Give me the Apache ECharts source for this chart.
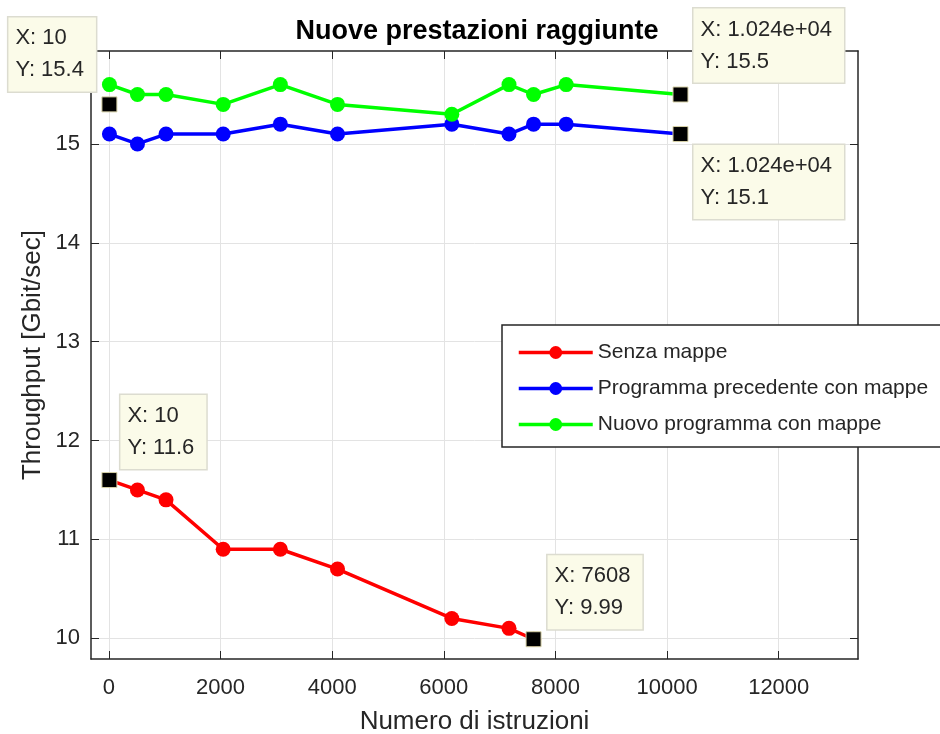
<!DOCTYPE html>
<html lang="it">
<head>
    <meta charset="UTF-8">
    <script src="https://cdn.jsdelivr.net/npm/echarts@6/dist/echarts.min.js"></script>
    <title>Nuove prestazioni raggiunte</title>
    <style>
        html, body { margin: 0; padding: 0; background: #fff; }
        #main { width: 940px; height: 734px; }
    </style>
</head>
<body>
<div id="main"></div>
<script>
    // data
    var seriesNames = ['Senza mappe', 'Programma precedente con mappe', 'Nuovo programma con mappe'];
    var seriesColors = ['#ff0000', '#0000ff', '#00ff00'];

    var xSenza = [10, 512, 1024, 2048, 3072, 4096, 6144, 7168, 7608];
    var ySenza = [11.6, 11.5, 11.4, 10.9, 10.9, 10.7, 10.2, 10.1, 9.99];

    var xMappe = [10, 512, 1024, 2048, 3072, 4096, 6144, 7168, 7608, 8192, 10240];
    var yPrecedente = [15.1, 15.0, 15.1, 15.1, 15.2, 15.1, 15.2, 15.1, 15.2, 15.2, 15.1];
    var yNuovo = [15.6, 15.5, 15.5, 15.4, 15.6, 15.4, 15.3, 15.6, 15.5, 15.6, 15.5];

    var xTicks = [0, 2000, 4000, 6000, 8000, 10000, 12000];
    var yTicks = [10, 11, 12, 13, 14, 15];

    // data tips (black squares + yellow boxes)
    var tipX = [10, 10240, 10240, 10, 7608];
    var tipY = [15.4, 15.5, 15.1, 11.6, 9.99];
    var tipXText = ['10', '1.024e+04', '1.024e+04', '10', '7608'];
    var tipYText = ['15.4', '15.5', '15.1', '11.6', '9.99'];
    var tipOffset = [[-93, -79], [21, -78], [21, 19], [19, -77], [22, -76]];

    var xMin = -320, xMax = 13420, yMin = 9.79, yMax = 15.94;

    function pairs(xs, ys) {
        return xs.map(function (x, i) { return [x, ys[i]]; });
    }

    var fontFam = '"Liberation Sans", Arial, sans-serif';
    var axisColor = '#262626';

    function lineSeries(idx, data) {
        return {
            name: seriesNames[idx],
            type: 'line',
            data: data,
            symbol: 'circle',
            symbolSize: 15,
            color: seriesColors[idx],
            lineStyle: { width: 3.5, color: seriesColors[idx] },
            itemStyle: { color: seriesColors[idx] },
            z: 3
        };
    }

    function boxAxis(pos, min, max, ticks) {
        return {
            type: 'value', position: pos,
            min: min, max: max,
            axisLine: { show: true, onZero: false, lineStyle: { color: axisColor, width: 1.5 } },
            axisTick: { show: true, inside: true, length: 8, customValues: ticks, lineStyle: { color: axisColor } },
            axisLabel: { show: false },
            splitLine: { show: false }
        };
    }

    var tipData = tipX.map(function (x, i) {
        return {
            value: [x, tipY[i]],
            label: {
                show: true,
                position: tipOffset[i],
                formatter: 'X: ' + tipXText[i] + '\nY: ' + tipYText[i]
            }
        };
    });

    var chart = echarts.init(document.getElementById('main'));

    var option = {
        animation: false,
        backgroundColor: '#ffffff',
        textStyle: { fontFamily: fontFam },
        title: {
            text: 'Nuove prestazioni raggiunte',
            left: 472, top: 13,
            textAlign: 'center',
            textStyle: { fontSize: 27, fontWeight: 'bold', color: '#000', fontFamily: fontFam }
        },
        grid: { left: 91, top: 51, right: 82, bottom: 75, outerBoundsMode: 'none' },
        legend: {
            data: seriesNames,
            orient: 'vertical',
            left: 502, top: 325,
            itemWidth: 74, itemHeight: 16,
            itemGap: 15,
            padding: [17, 24, 12, 15],
            backgroundColor: '#fff',
            borderColor: '#262626', borderWidth: 1.5,
            lineStyle: { width: 3.5 },
            textStyle: { fontSize: 21, color: '#262626', fontFamily: fontFam }
        },
        xAxis: [{
            type: 'value',
            min: xMin, max: xMax,
            name: 'Numero di istruzioni',
            nameLocation: 'middle', nameGap: 50, nameMoveOverlap: false,
            nameTextStyle: { fontSize: 26, color: axisColor },
            axisLine: { show: true, onZero: false, lineStyle: { color: axisColor, width: 1.5 } },
            axisTick: { show: true, inside: true, length: 8, customValues: xTicks, lineStyle: { color: axisColor } },
            axisLabel: {
                fontSize: 22, color: axisColor, margin: 18, customValues: xTicks,
                formatter: function (v) { return String(v); }
            },
            splitLine: { show: true, lineStyle: { color: '#e3e3e3', width: 1 } }
        }, boxAxis('top', xMin, xMax, xTicks)],
        yAxis: [{
            type: 'value',
            min: yMin, max: yMax,
            name: 'Throughput [Gbit/sec]',
            nameLocation: 'middle', nameGap: 45, nameMoveOverlap: false,
            nameTextStyle: { fontSize: 26, color: axisColor },
            axisLine: { show: true, onZero: false, lineStyle: { color: axisColor, width: 1.5 } },
            axisTick: { show: true, inside: true, length: 8, customValues: yTicks, lineStyle: { color: axisColor } },
            axisLabel: { fontSize: 22, color: axisColor, margin: 11, customValues: yTicks },
            splitLine: { show: true, lineStyle: { color: '#e3e3e3', width: 1 } }
        }, boxAxis('right', yMin, yMax, yTicks)],
        series: [
            lineSeries(0, pairs(xSenza, ySenza)),
            lineSeries(1, pairs(xMappe, yPrecedente)),
            lineSeries(2, pairs(xMappe, yNuovo)),
            {
                name: 'datatip',
                type: 'scatter',
                symbol: 'rect',
                symbolSize: 15,
                itemStyle: { color: '#000', opacity: 1, borderColor: '#d8d2a8', borderWidth: 1 },
                label: {
                    fontSize: 22,
                    lineHeight: 32,
                    color: '#262626',
                    fontFamily: fontFam,
                    backgroundColor: '#fbfbe9',
                    borderColor: '#dcdcd0',
                    borderWidth: 1.5,
                    padding: [5, 12, 5, 7],
                    align: 'left',
                    verticalAlign: 'top'
                },
                data: tipData,
                z: 10
            }
        ]
    };

    chart.setOption(option);
</script>
</body>
</html>
